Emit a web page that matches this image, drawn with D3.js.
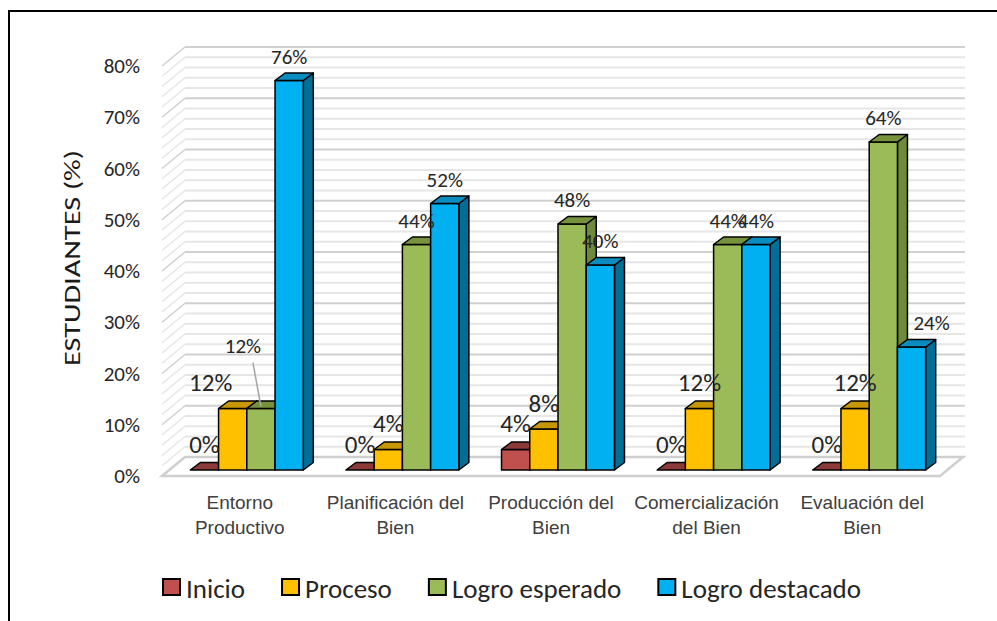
<!DOCTYPE html>
<html>
<head>
<meta charset="utf-8">
<script src="https://cdn.jsdelivr.net/npm/d3@7"></script>
<style>
  body { margin: 0; background: #fff; }
  svg { display: block; }
</style>
</head>
<body>
<svg id="chart" width="997" height="621"></svg>
<script>
// datos del grafico
const categories = [
    ["Entorno", "Productivo"],
    ["Planificación del", "Bien"],
    ["Producción del", "Bien"],
    ["Comercialización", "del Bien"],
    ["Evaluación del", "Bien"]
];
const seriesNames = ["Inicio", "Proceso", "Logro esperado", "Logro destacado"];
const inicio = [0, 0, 0.04, 0, 0];
const proceso = [0.12, 0.04, 0.08, 0.12, 0.12];
const logroEsperado = [0.12, 0.44, 0.48, 0.44, 0.64];
const logroDestacado = [0.76, 0.52, 0.40, 0.44, 0.24];
const yTicks = [0, 0.1, 0.2, 0.3, 0.4, 0.5, 0.6, 0.7, 0.8];

const values = [inicio, proceso, logroEsperado, logroDestacado];

// colores: frente, arriba, lado
const colors = [
    { front: "#C0504D", top: "#8C3A37", side: "#7A302E" },
    { front: "#FFC000", top: "#C69700", side: "#B38800" },
    { front: "#9BBB59", top: "#77923D", side: "#6E8A3A" },
    { front: "#00B0F0", top: "#0A8CC0", side: "#006E96" }
];

const svg = d3.select("#chart");
const font = "Calibri, Carlito, Lato, sans-serif";
const narrow = "'Liberation Sans Narrow', 'Arial Narrow', 'Liberation Sans', sans-serif";

// profundidad 3d
const wallDx = 23, wallDy = -19;     // frente -> pared del fondo
const barDx = 10, barDy = -7.5;      // profundidad de cada barra
const planeOff = 6;                  // plano de barras respecto al frente

const y = d3.scaleLinear().domain([0, 0.8]).range([470, 60]);
const frontLeft = 162, frontRight = 940;

const xFront = d3.scaleBand().domain(d3.range(categories.length))
    .range([frontLeft, frontRight]);
const x0 = d3.scaleBand().domain(d3.range(categories.length))
    .range([frontLeft + 7, frontRight + 7]).paddingInner(0.274).paddingOuter(0.137);
const x1 = d3.scaleBand().domain(d3.range(seriesNames.length)).range([0, x0.bandwidth()]);

// marco exterior
svg.append("rect").attr("x", 9).attr("y", 11).attr("width", 1000).attr("height", 620)
    .attr("fill", "none").attr("stroke", "#000").attr("stroke-width", 2);

// lineas de cuadricula (cada 2%)
const grid = svg.append("g");
d3.range(0, 0.8001, 0.02).forEach(v => {
    const major = Math.abs(Math.round(v * 100) % 10) < 0.5;
    const yf = y(v) + planeOff, yb = yf + wallDy;
    const col = major ? "#d0d0d0" : "#e6e6e6";
    grid.append("line").attr("x1", frontLeft + wallDx).attr("x2", 965)
        .attr("y1", yb).attr("y2", yb).attr("stroke", col).attr("stroke-width", 2);
    grid.append("line").attr("x1", frontLeft).attr("x2", frontLeft + wallDx)
        .attr("y1", yf).attr("y2", yb).attr("stroke", col).attr("stroke-width", 1.5);
});

// piso
const y0f = y(0) + planeOff;
svg.append("path")
    .attr("d", `M${frontLeft},${y0f} L${frontRight},${y0f} L${frontRight + wallDx},${y0f + wallDy} L${frontLeft + wallDx},${y0f + wallDy} Z`)
    .attr("fill", "#fff").attr("stroke", "#cfcfcf").attr("stroke-width", 2.5);

// etiquetas eje y
svg.append("g").selectAll("text").data(yTicks).enter().append("text")
    .attr("x", 140).attr("y", d => y(d) + planeOff)
    .attr("text-anchor", "end").attr("dominant-baseline", "central")
    .style("font-family", font).style("font-size", "21px").style("fill", "#262626")
    .text(d3.format(".0%"));

svg.append("text")
    .attr("transform", "translate(72,258) rotate(-90)")
    .attr("text-anchor", "middle").attr("dominant-baseline", "central")
    .attr("textLength", 216).attr("lengthAdjust", "spacingAndGlyphs")
    .style("font-family", font).style("font-size", "23px")
    .style("fill", "#1a1a1a")
    .text("ESTUDIANTES (%)");

// barras 3d
const bars = svg.append("g");
categories.forEach((c, ci) => {
    seriesNames.forEach((s, si) => {
        const v = values[si][ci];
        const xl = x0(ci) + x1(si), w = x1.bandwidth();
        const yt = y(v), yb = y(0);
        const col = colors[si];
        const g = bars.append("g").attr("stroke", "#000").attr("stroke-width", 1.5)
            .attr("stroke-linejoin", "round");
        // lado
        g.append("path")
            .attr("d", `M${xl + w},${yb} L${xl + w + barDx},${yb + barDy} L${xl + w + barDx},${yt + barDy} L${xl + w},${yt} Z`)
            .attr("fill", col.side);
        // frente
        g.append("rect").attr("x", xl).attr("y", yt).attr("width", w).attr("height", yb - yt)
            .attr("fill", col.front);
        // arriba
        g.append("path")
            .attr("d", `M${xl},${yt} L${xl + barDx},${yt + barDy} L${xl + w + barDx},${yt + barDy} L${xl + w},${yt} Z`)
            .attr("fill", col.top);
    });
});

// etiquetas de datos (ajustes manuales como en el original)
const nudges = { "0-1": [-22, 0], "0-2": [-18, -39], "4-3": [20, 0] };
const labels = svg.append("g");
categories.forEach((c, ci) => {
    seriesNames.forEach((s, si) => {
        const v = values[si][ci];
        const big = si < 2;
        const n = nudges[ci + "-" + si] || [0, 0];
        const cx = x0(ci) + x1(si) + x1.bandwidth() / 2 + n[0];
        const cy = y(v) - (big ? 26 : 24) + n[1];
        labels.append("text").attr("x", cx).attr("y", cy)
            .attr("text-anchor", "middle").attr("dominant-baseline", "central")
            .style("font-family", font).style("font-size", big ? "25px" : "21px")
            .style("fill", "#262626")
            .text(d3.format(".0%")(v));
        if (ci === 0 && si === 2) {
            labels.append("line").attr("x1", cx + 10).attr("y1", cy + 17)
                .attr("x2", x0(ci) + x1(si) + x1.bandwidth() / 2).attr("y2", y(v) - 2)
                .attr("stroke", "#a6a6a6").attr("stroke-width", 1.5);
        }
    });
});

// categorias
const cat = svg.append("g");
categories.forEach((lines, ci) => {
    const t = cat.append("text").attr("x", xFront(ci) + xFront.bandwidth() / 2).attr("y", 509)
        .attr("text-anchor", "middle")
        .style("font-family", narrow).style("font-size", "19px").style("fill", "#404040");
    lines.forEach((l, li) => {
        t.append("tspan").attr("x", xFront(ci) + xFront.bandwidth() / 2)
            .attr("dy", li === 0 ? 0 : 25).text(l);
    });
});

// leyenda
const legend = svg.append("g").attr("transform", "translate(163,587)");
let lx = 0;
seriesNames.forEach((s, si) => {
    const g = legend.append("g").attr("transform", `translate(${lx},0)`);
    g.append("rect").attr("x", 0).attr("y", -8).attr("width", 17).attr("height", 16)
        .attr("fill", colors[si].front).attr("stroke", "#000").attr("stroke-width", 2);
    const t = g.append("text").attr("x", 23).attr("y", 1).attr("dominant-baseline", "central")
        .style("font-family", font).style("font-size", "27px").style("fill", "#262626").text(s);
    lx += 23 + t.node().getComputedTextLength() + 37;
});
</script>
</body>
</html>
